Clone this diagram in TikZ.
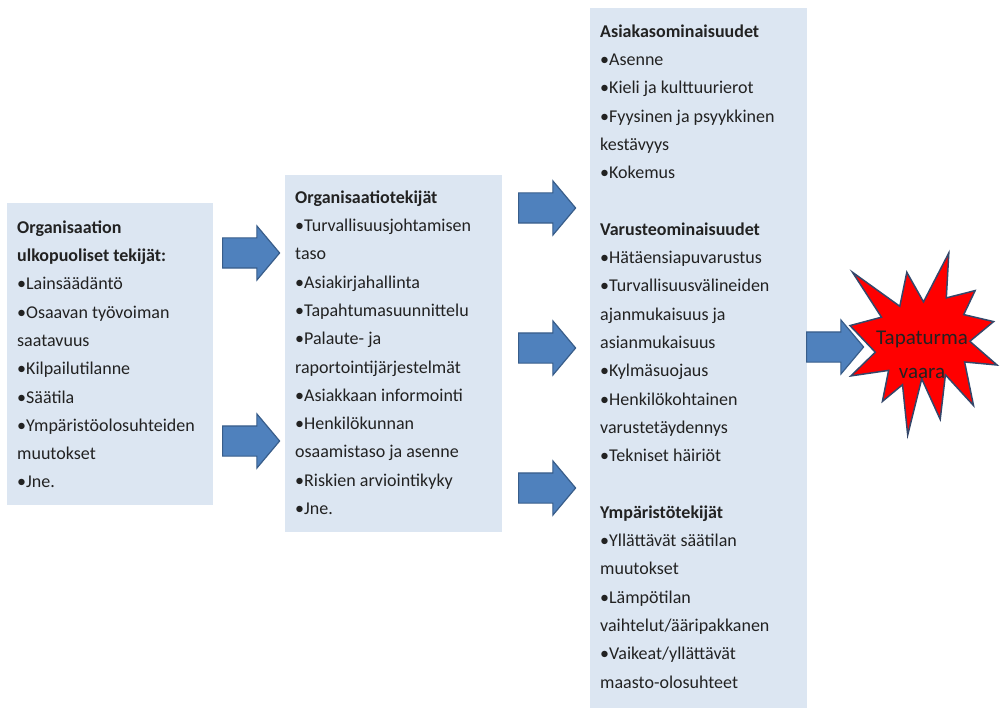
\documentclass[tikz,border=0pt]{standalone}
\usepackage{fontspec}
\setmainfont{Carlito}
\usetikzlibrary{shapes.arrows}

\definecolor{boxfill}{HTML}{DCE6F2}
\definecolor{arrowfill}{HTML}{4F81BD}
\definecolor{arrowline}{HTML}{385D8A}
\definecolor{starline}{HTML}{34476A}
\definecolor{textcol}{HTML}{222222}

\tikzset{
  factorbox/.style={rectangle, fill=boxfill, draw=none, anchor=north west, inner sep=0pt},
  factortext/.style={anchor=north west, inner sep=0pt, align=left, text=textcol,
    font=\fontsize{18}{28.3}\selectfont},
  flowarrow/.style={single arrow, fill=arrowfill, draw=arrowline, line width=1.2pt,
    anchor=tail, inner xsep=0pt, inner ysep=14.5pt, minimum height=57pt,
    single arrow head extend=12pt, single arrow tip angle=100},
}

\begin{document}
\begin{tikzpicture}[x=1pt, y=-1pt]
\useasboundingbox (0,0) rectangle (1000,708);

% factor boxes
\node[factorbox, minimum width=206pt, minimum height=302pt] (b1) at (7,203) {};
\node[factorbox, minimum width=217pt, minimum height=357pt] (b2) at (285,175) {};
\node[factorbox, minimum width=217pt, minimum height=700pt] (b3) at (590,8) {};

\node[factortext] (t1) at (17,213.2) {\strut\textbf{Organisaation}\\
\textbf{ulkopuoliset tekijät:}\\
•Lainsäädäntö\\
•Osaavan työvoiman\\
saatavuus\\
•Kilpailutilanne\\
•Säätila\\
•Ympäristöolosuhteiden\\
muutokset\\
•Jne.};

\node[factortext] (t2) at (295,183.2) {\strut\textbf{Organisaatiotekijät}\\
•Turvallisuusjohtamisen\\
taso\\
•Asiakirjahallinta\\
•Tapahtumasuunnittelu\\
•Palaute- ja\\
raportointijärjestelmät\\
•Asiakkaan informointi\\
•Henkilökunnan\\
osaamistaso ja asenne\\
•Riskien arviointikyky\\
•Jne.};

\node[factortext] (t3) at (600,17.2) {\strut\textbf{Asiakasominaisuudet}\\
•Asenne\\
•Kieli ja kulttuurierot\\
•Fyysinen ja psyykkinen\\
kestävyys\\
•Kokemus\\[28.3pt]
\textbf{Varusteominaisuudet}\\
•Hätäensiapuvarustus\\
•Turvallisuusvälineiden\\
ajanmukaisuus ja\\
asianmukaisuus\\
•Kylmäsuojaus\\
•Henkilökohtainen\\
varustetäydennys\\
•Tekniset häiriöt\\[28.3pt]
\textbf{Ympäristötekijät}\\
•Yllättävät säätilan\\
muutokset\\
•Lämpötilan\\
vaihtelut/ääripakkanen\\
•Vaikeat/yllättävät\\
maasto-olosuhteet};

% explosion shape
\draw[fill=red, draw=starline, line width=1.5pt, line join=miter]
  (923.5,301.9) -- (948.8,253) -- (946.3,297.9) -- (975.1,290.6) -- (963.7,314.6)
  -- (993.6,321.6) -- (969.8,341.3) -- (997,365.0) -- (964.6,362.0) -- (973.5,405.5)
  -- (945.4,374.8) -- (940.2,419.3) -- (921.7,378.8) -- (907.7,435) -- (902.5,384.7)
  -- (882.4,401.4) -- (888.6,370.4) -- (850.9,375.9) -- (875.3,352.2) -- (850,325.6)
  -- (881.5,317.2) -- (852.5,272.3) -- (899.8,306.3) -- (906.8,272.3) -- cycle;
\node[align=center, inner sep=0pt, text=textcol, font=\fontsize{21}{34}\selectfont]
  (risk) at (922,355) {Tapaturma\\vaara};

% block arrows between the stages
\node[flowarrow] (a1) at (222,253) {};
\node[flowarrow] (a2) at (222,441) {};
\node[flowarrow] (a3) at (518,208) {};
\node[flowarrow] (a4) at (518,348) {};
\node[flowarrow] (a5) at (518,488) {};
\node[flowarrow] (a6) at (806,347) {};
\end{tikzpicture}
\end{document}
